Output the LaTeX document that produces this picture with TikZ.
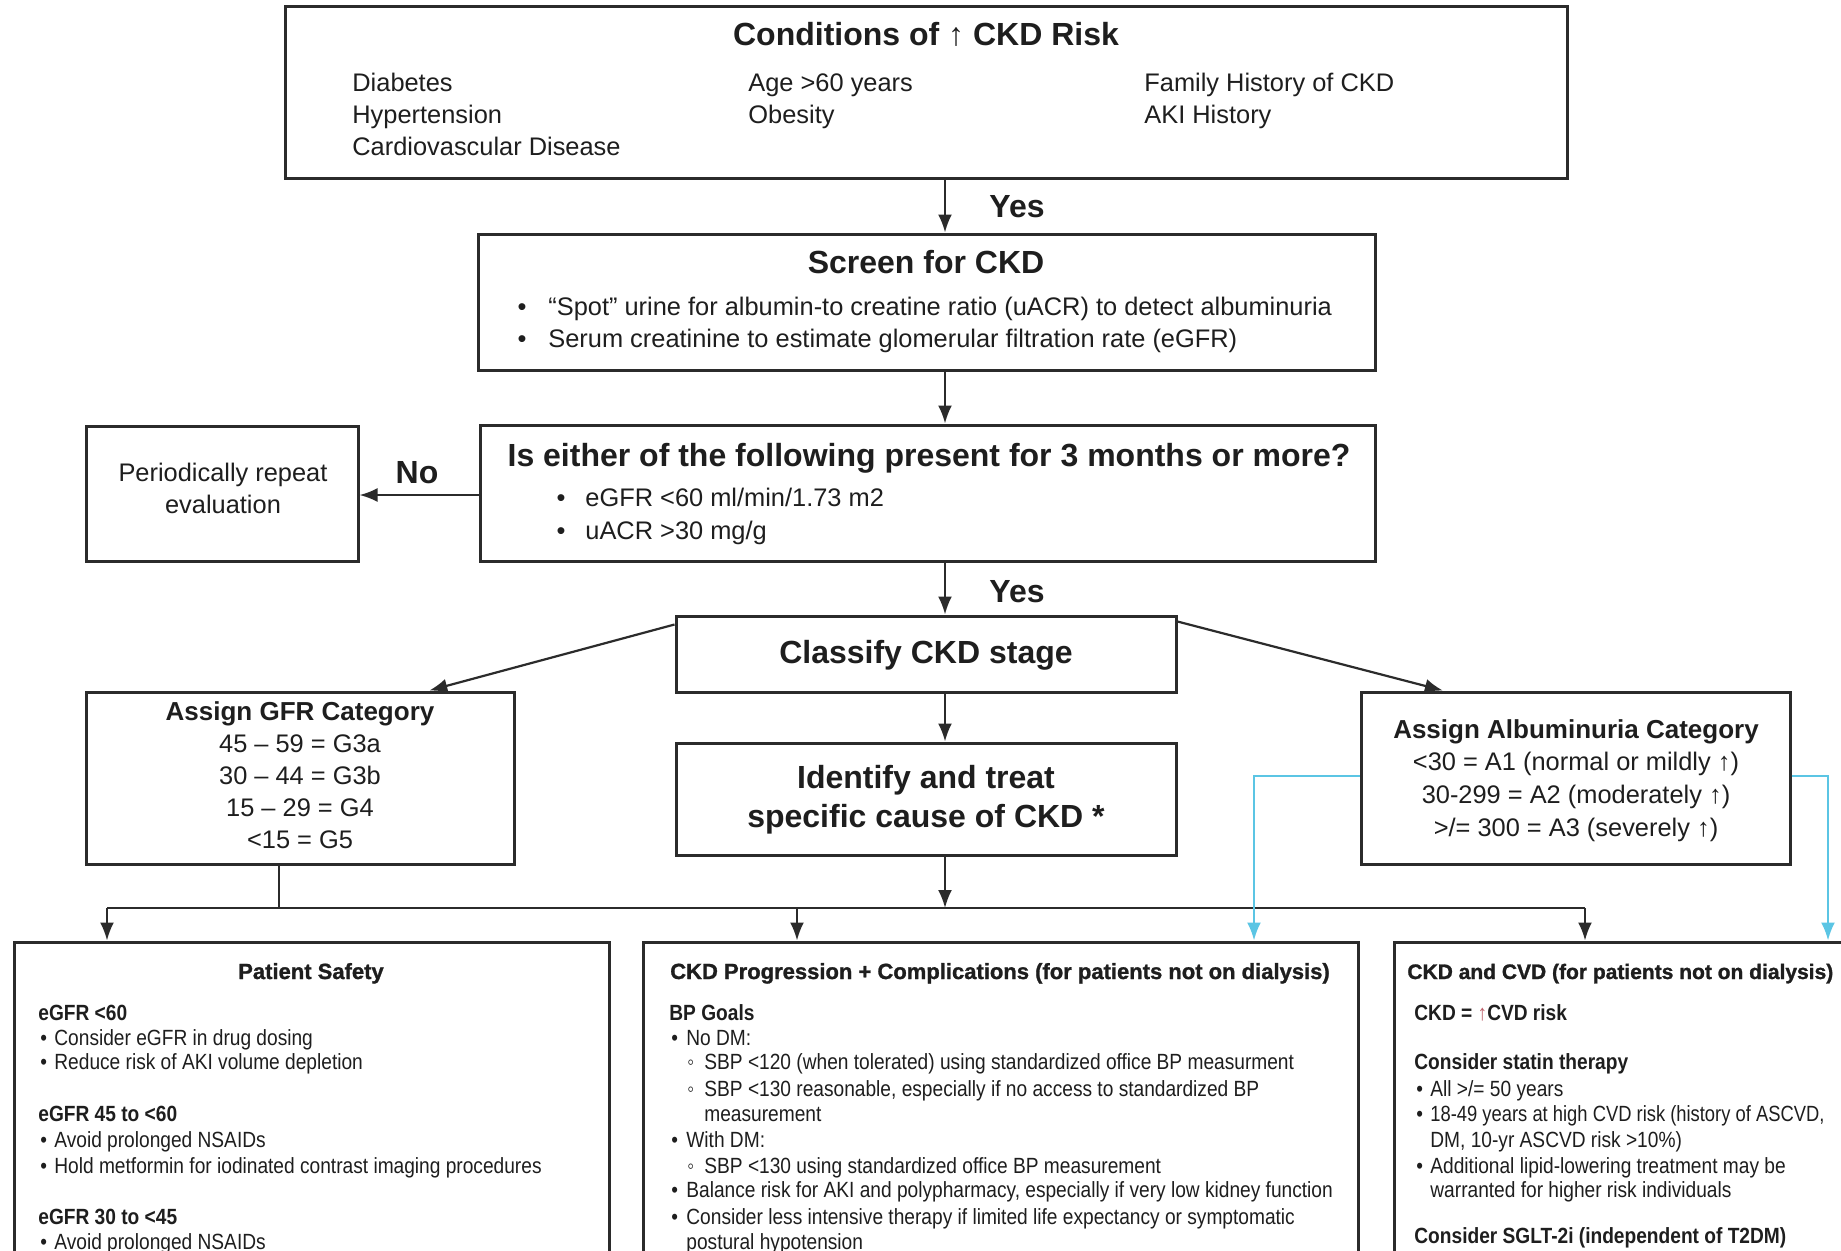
\documentclass[tikz,border=0pt]{standalone}
\usepackage{fontspec}
\setmainfont{Liberation Sans}
\newfontfamily\narrowfont[FakeStretch=0.87]{Liberation Sans}
\newfontfamily\narrowerfont[FakeStretch=0.835]{Liberation Sans}
\newfontfamily\heavyfont[BoldFeatures={FakeBold=1.2}]{Liberation Sans}
\usetikzlibrary{arrows.meta,calc}
\definecolor{ink}{HTML}{1E1E1E}
\definecolor{edge}{HTML}{2B2B2B}
\definecolor{cyanline}{RGB}{91,197,228}
\definecolor{uparrow}{RGB}{190,95,105}
\tikzset{
  box/.style={draw=edge, line width=1.5pt, rectangle, inner sep=0pt},
  conn/.style={draw=edge, line width=1.1pt},
  arr/.style={conn, -{Latex[length=9pt,width=7pt]}},
  barr/.style={draw=cyanline, line width=1.2pt, -{Latex[length=9pt,width=7pt]}},
  txt/.style={inner sep=0pt, text=ink, text height=0.75em, text depth=0.25em},
  body/.style={txt, font=\fontsize{12.7}{16}\selectfont},
  head/.style={txt, font=\fontsize{16}{19}\selectfont\bfseries},
  subhead/.style={txt, font=\fontsize{13}{16}\selectfont\bfseries},
  btitle/.style={txt, font=\heavyfont\fontsize{11}{13}\selectfont\bfseries},
  small/.style={txt, anchor=west, font=\narrowfont\fontsize{11}{12.5}\selectfont},
  smallb/.style={txt, anchor=west, font=\narrowfont\fontsize{11}{12.5}\selectfont\bfseries},
}
\begin{document}
\begin{tikzpicture}[x=0.5pt, y=-0.5pt]
\useasboundingbox (0,0) rectangle (1841,1250);
\fill[white] (0,0) rectangle (1841,1250);
\clip (0,0) rectangle (1841,1250);

% ---------- boxes ----------
\node[box, minimum width=641pt, minimum height=86pt] (top) at (926,92) {};
\node[box, minimum width=448.5pt, minimum height=68pt] (screen) at (926.5,302) {};
\node[box, minimum width=447.5pt, minimum height=68pt] (question) at (927.5,493) {};
\node[box, minimum width=136pt, minimum height=67.5pt] (repeat) at (222,493.5) {};
\node[box, minimum width=250pt, minimum height=38pt] (classify) at (926,654) {};
\node[box, minimum width=214pt, minimum height=86pt] (gfr) at (300,778) {};
\node[box, minimum width=250pt, minimum height=56pt] (identify) at (926,799) {};
\node[box, minimum width=214.5pt, minimum height=86pt] (alb) at (1575.5,778) {};
\node[box, minimum width=297.5pt, minimum height=179pt] (safety) at (311.5,1121) {};
\node[box, minimum width=357.5pt, minimum height=179pt] (prog) at (1000.5,1121) {};
\node[box, minimum width=233pt, minimum height=179pt] (cvd) at (1627,1121) {};

% ---------- top box text ----------
\node[head] (t0) at (926,40.5) {Conditions of ↑ CKD Risk};
\node[body, anchor=west] (t1) at (352,86.5) {Diabetes};
\node[body, anchor=west] (t2) at (352,118.5) {Hypertension};
\node[body, anchor=west] (t3) at (352,150.5) {Cardiovascular Disease};
\node[body, anchor=west] (t4) at (748,86.5) {Age >60 years};
\node[body, anchor=west] (t5) at (748,118.5) {Obesity};
\node[body, anchor=west] (t6) at (1144,86.5) {Family History of CKD};
\node[body, anchor=west] (t7) at (1144,118.5) {AKI History};

% ---------- screen ----------
\node[head] (s0) at (926,268.5) {Screen for CKD};
\node[body] (s1b) at (522,310.5) {•};
\node[body, anchor=west] (s1) at (548,310.5) {“Spot” urine for albumin-to creatine ratio (uACR) to detect albuminuria};
\node[body] (s2b) at (522,342.5) {•};
\node[body, anchor=west] (s2) at (548,342.5) {Serum creatinine to estimate glomerular filtration rate (eGFR)};

% ---------- question ----------
\node[head] (q0) at (929,461.5) {Is either of the following present for 3 months or more?};
\node[body] (q1b) at (561,501.5) {•};
\node[body, anchor=west] (q1) at (585,501.5) {eGFR <60 ml/min/1.73 m2};
\node[body] (q2b) at (561,534.5) {•};
\node[body, anchor=west] (q2) at (585,534.5) {uACR >30 mg/g};

% ---------- repeat ----------
\node[body] (r1) at (223,476.5) {Periodically repeat};
\node[body] (r2) at (223,508.5) {evaluation};

% ---------- labels ----------
\node[head] (yes1) at (1017,212.5) {Yes};
\node[head] (yes2) at (1017,597.5) {Yes};
\node[head] (no) at (417,478.5) {No};

% ---------- classify / identify ----------
\node[head] (c0) at (926,658.5) {Classify CKD stage};
\node[head] (i1) at (926,783.5) {Identify and treat};
\node[head] (i2) at (926,822.5) {specific cause of CKD *};

% ---------- GFR ----------
\node[subhead] (g0) at (300,715.5) {Assign GFR Category};
\node[body] (g1) at (300,747.5) {45 – 59 = G3a};
\node[body] (g2) at (300,779.5) {30 – 44 = G3b};
\node[body] (g3) at (300,811.5) {15 – 29 = G4};
\node[body] (g4) at (300,843.5) {<15 = G5};

% ---------- albuminuria ----------
\node[subhead] (a0) at (1576,733.5) {Assign Albuminuria Category};
\node[body] (a1) at (1576,765.5) {<30 = A1 (normal or mildly ↑)};
\node[body] (a2) at (1576,798.5) {30-299 = A2 (moderately ↑)};
\node[body] (a3) at (1576,831.5) {>/= 300 = A3 (severely ↑)};

% ---------- patient safety ----------
\node[btitle] (p0) at (311,974) {Patient Safety};
\node[smallb] (p1) at (38,1015) {eGFR <60};
\node[small] (p2b) at (40,1040) {•};
\node[small] (p2) at (54,1040) {Consider eGFR in drug dosing};
\node[small] (p3b) at (40,1064) {•};
\node[small] (p3) at (54,1064) {Reduce risk of AKI volume depletion};
\node[smallb] (p4) at (38,1116) {eGFR 45 to <60};
\node[small] (p5b) at (40,1142) {•};
\node[small] (p5) at (54,1142) {Avoid prolonged NSAIDs};
\node[small] (p6b) at (40,1168) {•};
\node[small] (p6) at (54,1168) {Hold metformin for iodinated contrast imaging procedures};
\node[smallb] (p7) at (38,1219) {eGFR 30 to <45};
\node[small] (p8b) at (40,1244) {•};
\node[small] (p8) at (54,1244) {Avoid prolonged NSAIDs};

% ---------- progression ----------
\node[btitle] (m0) at (1000,974) {CKD Progression + Complications (for patients not on dialysis)};
\node[smallb] (m1) at (669,1015) {BP Goals};
\node[small] (m2b) at (671,1040) {•};
\node[small] (m2) at (686,1040) {No DM:};
\node[small] (m3b) at (687,1064) {◦};
\node[small] (m3) at (704,1064) {SBP <120 (when tolerated) using standardized office BP measurment};
\node[small] (m4b) at (687,1091) {◦};
\node[small] (m4) at (704,1091) {SBP <130 reasonable, especially if no access to standardized BP};
\node[small] (m5) at (704,1116) {measurement};
\node[small] (m6b) at (671,1142) {•};
\node[small] (m6) at (686,1142) {With DM:};
\node[small] (m7b) at (687,1168) {◦};
\node[small] (m7) at (704,1168) {SBP <130 using standardized office BP measurement};
\node[small] (m8b) at (671,1192) {•};
\node[small] (m8) at (686,1192) {Balance risk for AKI and polypharmacy, especially if very low kidney function};
\node[small] (m9b) at (671,1219) {•};
\node[small] (m9) at (686,1219) {Consider less intensive therapy if limited life expectancy or symptomatic};
\node[small] (m10) at (686,1244) {postural hypotension};

% ---------- CKD and CVD ----------
\node[btitle, anchor=west, font=\heavyfont\fontsize{10.5}{13}\selectfont\bfseries] (v0) at (1407,974) {CKD and CVD (for patients not on dialysis)};
\node[smallb] (v1) at (1414,1015) {CKD = \textcolor{uparrow}{↑}CVD risk};
\node[smallb] (v2) at (1414,1064) {Consider statin therapy};
\node[small] (v3b) at (1416,1091) {•};
\node[small] (v3) at (1430,1091) {All >/= 50 years};
\node[small] (v4b) at (1416,1116) {•};
\node[small, font=\narrowerfont\fontsize{11}{12.5}\selectfont] (v4) at (1430,1116) {18-49 years at high CVD risk (history of ASCVD,};
\node[small] (v5) at (1430,1142) {DM, 10-yr ASCVD risk >10\%)};
\node[small] (v6b) at (1416,1168) {•};
\node[small] (v6) at (1430,1168) {Additional lipid-lowering treatment may be};
\node[small] (v7) at (1430,1192) {warranted for higher risk individuals};
\node[smallb] (v8) at (1414,1238) {Consider SGLT-2i (independent of T2DM)};

% ---------- coordinates ----------
\coordinate (cx) at (945,0);
\coordinate (noY) at (0,495);
\coordinate (busL) at (107,908);
\coordinate (busM) at (797,908);
\coordinate (busR) at (1585,908);
\coordinate (gfrbus) at (279,908);
\coordinate (blueL) at (1254,776);
\coordinate (blueR) at (1828,776);

% ---------- connectors ----------
\draw[arr] (top.south -| cx) -- (screen.north -| cx);
\draw[arr] (screen.south -| cx) -- (question.north -| cx);
\draw[arr] (question.west |- noY) -- (repeat.east |- noY);
\draw[arr] (question.south -| cx) -- (classify.north -| cx);
\draw[arr] (classify.south -| cx) -- (identify.north -| cx);
\draw[arr] ([yshift=-5pt]classify.north west) -- ($(gfr.north west)!0.8!(gfr.north east)$);
\draw[arr] ([yshift=-3.5pt]classify.north east) -- ($(alb.north west)!0.193!(alb.north east)$);
\draw[conn] (gfr.south -| gfrbus) -- (gfrbus);
\draw[conn] (busL) -- (busR);
\draw[arr] (identify.south -| cx) -- (busM -| cx);
\draw[arr] (busL) -- (safety.north -| busL);
\draw[arr] (busM) -- (prog.north -| busM);
\draw[arr] (busR) -- (cvd.north -| busR);
\draw[barr] (alb.west |- blueL) -- (blueL) -- (prog.north -| blueL);
\draw[barr] (alb.east |- blueR) -- (blueR) -- (cvd.north -| blueR);
\end{tikzpicture}
\end{document}
